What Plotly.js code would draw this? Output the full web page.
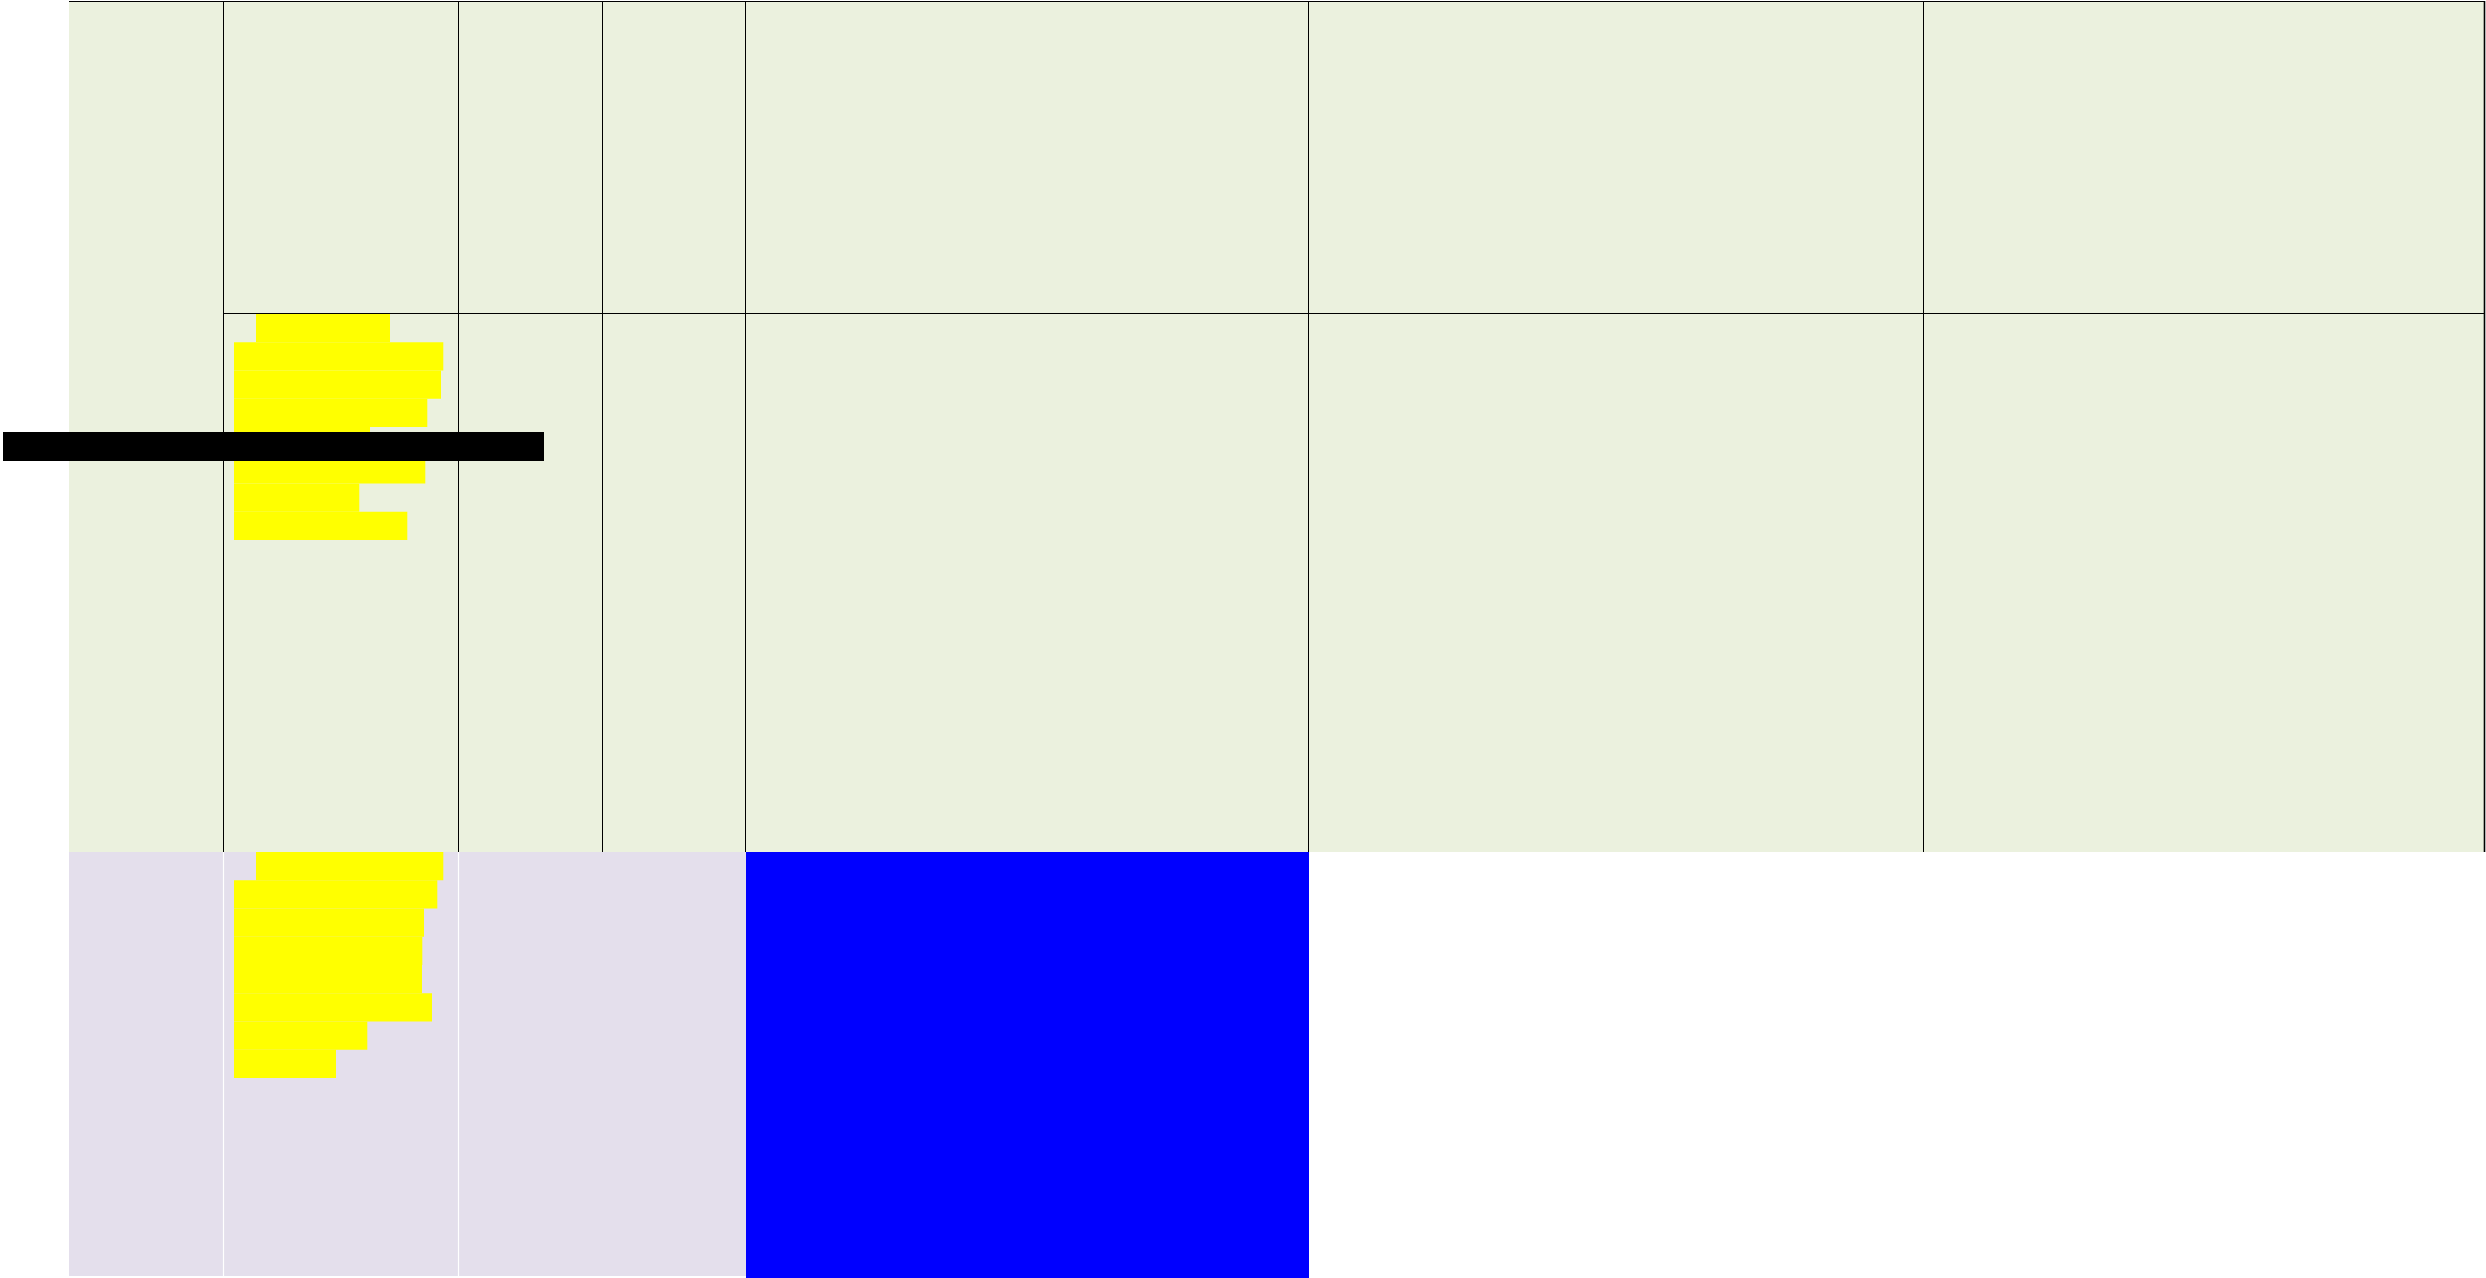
<!DOCTYPE html>
<html>
<head>
<meta charset="utf-8">
<script src="https://cdn.plot.ly/plotly-3.0.1.min.js"></script>
<style>
  html, body { margin: 0; padding: 0; background: #ffffff; overflow: hidden; }
  #chart { width: 2486px; height: 1278px; }
</style>
</head>
<body>
<div id="chart"></div>
<script>
// ---- data ----
// background cell fill per row band (0 = green, 1 = purple, null = empty)
const cellsTop    = [0, 0, 0, 0, 0, 0, 0];
const cellsMiddle = [0, 0, 0, 0, 0, 0, 0];
const cellsBottom = [1, 1, 1, 1, null, null, null];

// yellow bars, upper block (start / end along x)
const yellowUpperStart = [256, 234, 234, 234, 234, 234, 234, 234];
const yellowUpperEnd   = [390, 443.3, 441, 427.3, 370, 425.3, 359.3, 407.3];
// yellow bars, lower block
const yellowLowerStart = [256, 234, 234, 234, 234, 234, 234, 234];
const yellowLowerEnd   = [443.3, 437.3, 424, 422.3, 422, 432, 367.3, 336];

// black bar (start / end along x)
const blackBarStart = [3];
const blackBarEnd   = [544];

// blue block (extent along y)
const blueStart = [852];
const blueEnd   = [1278];

// ---- layout geometry ----
const W = 2486, H = 1278;
const colEdges = [69, 223.5, 458.5, 602.5, 745.5, 1308.5, 1923.5, 2484];
const rowEdges = [1, 313.5, 852, 1276];
const rowH = 28.25;
const upperTop = 314, lowerTop = 852;

const GREEN = '#EBF1DE', PURPLE = '#E4DFEC';

const traces = [];

// background cells
traces.push({
  type: 'heatmap',
  x: colEdges,
  y: rowEdges,
  z: [cellsTop, cellsMiddle, cellsBottom],
  zmin: 0, zmax: 1,
  colorscale: [[0, GREEN], [1, PURPLE]],
  showscale: false,
  hoverinfo: 'skip',
  zsmooth: false
});

// white separators in the purple band
(function () {
  const xs = [], ys = [];
  [colEdges[1], colEdges[2]].forEach(x => { xs.push(x, x, null); ys.push(rowEdges[2], rowEdges[3], null); });
  traces.push({ type: 'scatter', mode: 'lines', x: xs, y: ys, line: { color: '#ffffff', width: 1.2 }, hoverinfo: 'skip', showlegend: false });
})();

// black grid lines in the green band
(function () {
  const xs = [], ys = [];
  for (let i = 1; i < colEdges.length - 1; i++) {
    xs.push(colEdges[i], colEdges[i], null);
    ys.push(rowEdges[0], rowEdges[2], null);
  }
  // top border
  xs.push(colEdges[0], colEdges[colEdges.length - 1] + 1, null);
  ys.push(1.5, 1.5, null);
  // inner horizontal line (from second column)
  xs.push(colEdges[1], colEdges[colEdges.length - 1] + 1, null);
  ys.push(rowEdges[1], rowEdges[1], null);
  traces.push({ type: 'scatter', mode: 'lines', x: xs, y: ys, line: { color: '#000000', width: 1 }, hoverinfo: 'skip', showlegend: false });
  // right border (slightly heavier)
  const xr = colEdges[colEdges.length - 1] + 0.5;
  traces.push({ type: 'scatter', mode: 'lines', x: [xr, xr], y: [rowEdges[0], rowEdges[2]], line: { color: '#000000', width: 1.6 }, hoverinfo: 'skip', showlegend: false });
})();

function yellowTrace(starts, ends, top) {
  return {
    type: 'bar', orientation: 'h',
    base: starts,
    x: ends.map((e, i) => e - starts[i]),
    y: starts.map((_, i) => top + (i + 0.5) * rowH),
    width: rowH,
    marker: { color: '#FFFF00', line: { width: 0 } },
    hoverinfo: 'skip', showlegend: false
  };
}
traces.push(yellowTrace(yellowUpperStart, yellowUpperEnd, upperTop));
traces.push(yellowTrace(yellowLowerStart, yellowLowerEnd, lowerTop));

// black bar
traces.push({
  type: 'bar', orientation: 'h',
  base: blackBarStart,
  x: blackBarEnd.map((e, i) => e - blackBarStart[i]),
  y: [446.5],
  width: 29,
  marker: { color: '#000000', line: { width: 0 } },
  hoverinfo: 'skip', showlegend: false
});

// blue block
traces.push({
  type: 'bar', orientation: 'v',
  base: blueStart,
  y: blueEnd.map((e, i) => e - blueStart[i]),
  x: [(746 + 1309) / 2],
  width: 1309 - 746,
  marker: { color: '#0000FF', line: { width: 0 } },
  hoverinfo: 'skip', showlegend: false
});

const layout = {
  width: W, height: H,
  margin: { l: 0, r: 0, t: 0, b: 0, pad: 0 },
  paper_bgcolor: '#ffffff',
  plot_bgcolor: '#ffffff',
  barmode: 'overlay',
  showlegend: false,
  hovermode: false,
  xaxis: { range: [0, W], showgrid: false, zeroline: false, showline: false, showticklabels: false, ticks: '', fixedrange: true },
  yaxis: { range: [H, 0], showgrid: false, zeroline: false, showline: false, showticklabels: false, ticks: '', fixedrange: true }
};

Plotly.newPlot('chart', traces, layout, { staticPlot: true, displayModeBar: false });
</script>
</body>
</html>
